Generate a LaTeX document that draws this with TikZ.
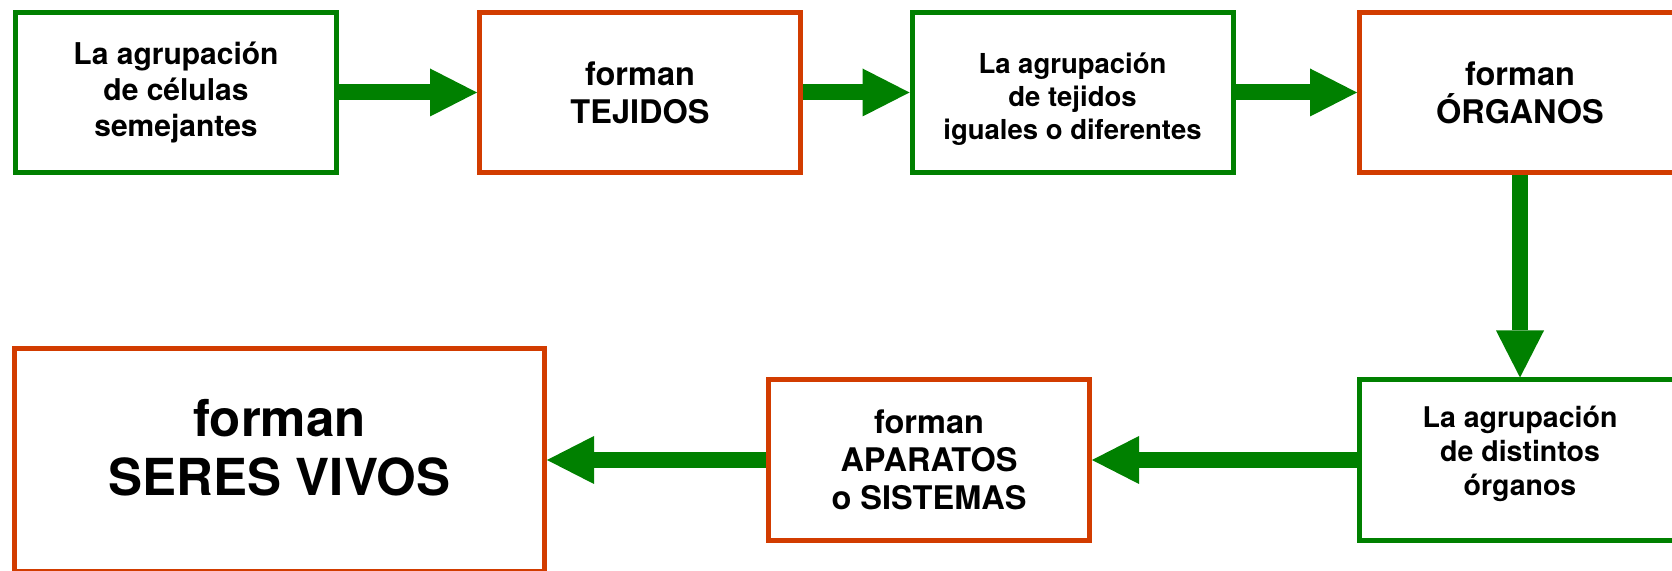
\documentclass[tikz,border=0pt]{standalone}
\usepackage{fontspec}
\setmainfont{TeX Gyre Heros}
\usetikzlibrary{arrows.meta}
\definecolor{vg}{RGB}{0,128,0}
\definecolor{ro}{RGB}{210,60,0}
\begin{document}
\begin{tikzpicture}[x=1pt,y=1pt,
  box/.style={draw, line width=5pt, minimum width=321pt, minimum height=160pt, align=center, inner sep=0pt},
  gbox/.style={box, draw=vg},
  rbox/.style={box, draw=ro},
  txt/.style={align=center, inner sep=0pt},
  flecha/.style={draw=vg, line width=16pt, -{Triangle[length=47pt,width=48pt,line width=0pt,fill=vg]}}]
\useasboundingbox (0,0) rectangle (1672,570);
\clip (0,0) rectangle (1672,570);
\node[gbox, font=\bfseries\fontsize{30}{36}\selectfont] (b1) at (176,477.5) {La agrupación\\de células\\semejantes};
\node[rbox, font=\bfseries\fontsize{32.5}{38}\selectfont] (b2) at (640,477.5) {forman\\TEJIDOS};
\node[gbox] (b3) at (1072.5,477.5) {};
\node[txt, font=\bfseries\fontsize{27.5}{33}\selectfont] (t3) at ([yshift=-7pt]b3.center) {La agrupación\\de tejidos\\iguales o diferentes};
\node[rbox, font=\bfseries\fontsize{32.5}{38}\selectfont] (b4) at (1520,477.5) {forman\\ÓRGANOS};
\node[gbox] (b6) at (1520,110) {};
\node[txt, font=\bfseries\fontsize{28.5}{34}\selectfont] (t6) at ([yshift=6pt]b6.center) {La agrupación\\de distintos\\órganos};
\node[rbox, font=\bfseries\fontsize{32.5}{38}\selectfont] (b5) at (929,110) {forman\\APARATOS\\o SISTEMAS};
\node[rbox, minimum width=530pt, minimum height=223pt] (b7) at (279.5,110) {};
\node[txt, font=\bfseries\fontsize{51}{59}\selectfont] (t7) at ([yshift=12pt]b7.center) {forman\\SERES VIVOS};
\draw[flecha] (b1.east) -- (b2.west);
\draw[flecha] (b2.east) -- (b3.west);
\draw[flecha] (b3.east) -- (b4.west);
\draw[flecha] (b4.south) -- (b6.north);
\draw[flecha] (b6.west) -- (b5.east);
\draw[flecha] (b5.west) -- (b7.east);
\end{tikzpicture}
\end{document}
